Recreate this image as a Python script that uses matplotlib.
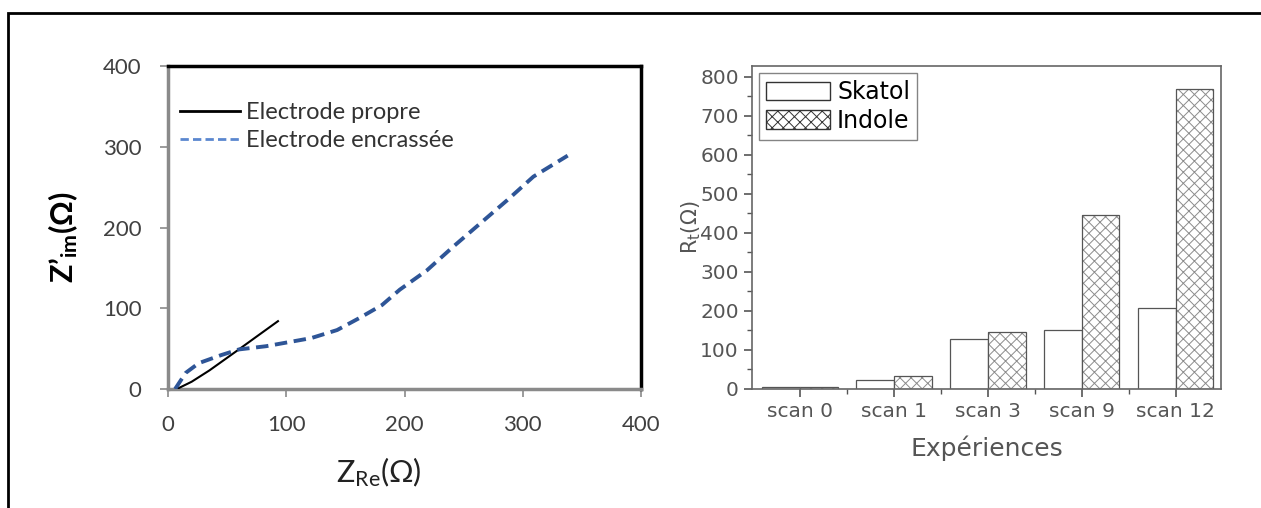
import matplotlib
matplotlib.use("Agg")
import matplotlib.pyplot as plt
import numpy as np
from matplotlib.lines import Line2D
from matplotlib.patches import Rectangle, Patch
from matplotlib.ticker import MultipleLocator, FixedLocator

# ---- data: left (Nyquist) ----
propre_x = [7.5, 20, 35, 58, 75, 93]
propre_y = [0, 9, 23, 47, 65, 84]
encr_x = [6, 15, 26, 45, 60, 83, 102, 121, 143, 162, 181, 196, 219, 241, 264, 287, 309, 338]
encr_y = [0, 20, 32, 42, 49, 53, 58, 63, 73, 88, 104, 123, 147, 176, 205, 234, 263, 289]
left_ticks = [0, 100, 200, 300, 400]

# ---- data: right (bars) ----
scans = ["scan 0", "scan 1", "scan 3", "scan 9", "scan 12"]
skatol = [5, 22, 128, 152, 207]
indole = [5, 33, 145, 445, 768]
right_yticks = [0, 100, 200, 300, 400, 500, 600, 700, 800]

plt.rcParams['mathtext.fontset'] = 'custom'
plt.rcParams['mathtext.rm'] = 'Lato'
plt.rcParams['mathtext.it'] = 'Lato:italic'
plt.rcParams['mathtext.bf'] = 'Lato:bold'
plt.rcParams['hatch.linewidth'] = 0.7

W, H = 1261, 508
fig = plt.figure(figsize=(W / 100, H / 100), dpi=100)

# outer frame
fig.patches.append(Rectangle((8 / W, -0.1), 1.2, 1 - 13 / H + 0.1, transform=fig.transFigure,
                             fill=False, edgecolor='black', linewidth=2, zorder=0))

# ---------- left axes ----------
ax1 = fig.add_axes([168 / W, 1 - 389 / H, 473 / W, 323 / H])
ax1.plot(propre_x, propre_y, color='black', lw=1.5, zorder=3)
ax1.plot(encr_x, encr_y, color='#2E5597', lw=2.8, ls=(0, (3.2, 1.7)), zorder=3)
ax1.set_xlim(0, 400)
ax1.set_ylim(0, 400)
ax1.set_xticks(left_ticks)
ax1.set_yticks(left_ticks)
for s in ['left', 'bottom']:
    ax1.spines[s].set_color('#8a8a8a')
    ax1.spines[s].set_linewidth(2.5)
for s in ['top', 'right']:
    ax1.spines[s].set_color('black')
    ax1.spines[s].set_linewidth(2.5)
ax1.tick_params(axis='both', direction='out', length=6, width=1.2, color='#8a8a8a',
                labelsize=16, labelcolor='#404040', pad=13)
for lab in ax1.get_xticklabels() + ax1.get_yticklabels():
    lab.set_fontfamily('Lato')
ax1.set_xlabel(r"Z$_{\mathrm{Re}}$(Ω)", fontsize=22, family='Lato', color='#222222')
ax1.xaxis.set_label_coords(0.446, -0.205)
ax1.set_ylabel(r"Z’$_{\mathbf{im}}$(Ω)", fontsize=22, family='Lato', fontweight='bold',
               color='black')
ax1.yaxis.set_label_coords(-0.186, 0.47)
handles = [Line2D([], [], color='black', lw=2),
           Line2D([], [], color='#5B87CF', lw=2, ls=(0, (3, 1.5)))]
leg1 = ax1.legend(handles, ["Electrode propre", "Electrode encrassée"], loc='upper left',
                  bbox_to_anchor=(0.025, 0.888), frameon=False, handlelength=2.55,
                  handletextpad=0.25, labelspacing=0.3, borderaxespad=0.0, borderpad=0.0,
                  prop={'family': 'Lato', 'size': 17})
for t in leg1.get_texts():
    t.set_color('#333333')

# ---------- right axes ----------
ax2 = fig.add_axes([752 / W, 1 - 389 / H, 469 / W, 323 / H])
x = np.arange(len(scans))
bw = 0.4
ax2.bar(x - bw / 2, skatol, bw, facecolor='white', edgecolor='#555555', lw=0.9)
ax2.bar(x + bw / 2, indole, bw, facecolor='white', edgecolor='#8c8c8c', lw=0, hatch='xxx')
ax2.bar(x + bw / 2, indole, bw, facecolor='none', edgecolor='#555555', lw=0.9)
ax2.set_xlim(-0.51, 4.48)
ax2.set_ylim(0, 828)
ax2.set_xticks(x)
ax2.set_xticklabels(scans)
ax2.xaxis.set_minor_locator(FixedLocator(x[:-1] + 0.5))
ax2.set_yticks(right_yticks)
ax2.yaxis.set_minor_locator(MultipleLocator(50))
for s in ax2.spines.values():
    s.set_color('#666666')
    s.set_linewidth(1.2)
ax2.tick_params(axis='both', which='major', direction='out', length=6, width=1.2,
                color='#555555', labelsize=14.5, labelcolor='#555555')
ax2.tick_params(axis='both', which='minor', direction='out', length=3.5, width=1.0,
                color='#555555')
ax2.set_xlabel("Expériences", fontsize=18, color='#555555', labelpad=10)
ax2.set_ylabel(r"R$_{\mathregular{t}}$(Ω)", fontsize=15, color='#555555')
ax2.yaxis.set_label_coords(-0.105, 0.5)
leg_handles = [Patch(facecolor='white', edgecolor='#333333', lw=1.0),
               Patch(facecolor='white', edgecolor='#333333', lw=1.0, hatch='xxx')]
leg2 = ax2.legend(leg_handles, ["Skatol", "Indole"], loc='upper left', fontsize=17,
                  handlelength=2.7, handleheight=0.85, handletextpad=0.3, labelspacing=0.2,
                  borderaxespad=0.3, borderpad=0.3, fancybox=False, edgecolor='#666666')
leg2.get_frame().set_linewidth(1.0)

fig.savefig("out.png", dpi=100)
